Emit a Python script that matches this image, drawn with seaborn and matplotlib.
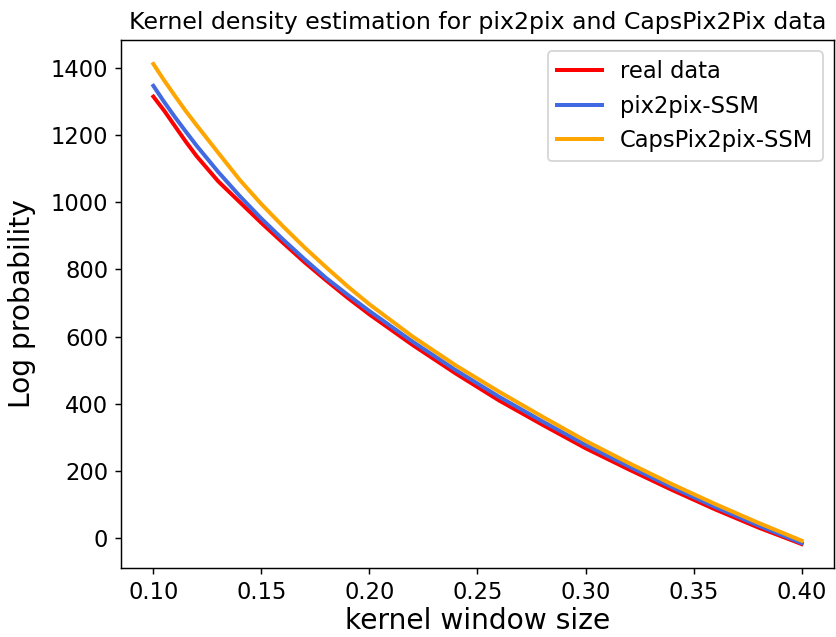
import numpy as np
import pandas as pd
import matplotlib
matplotlib.use("Agg")
import matplotlib.pyplot as plt
import seaborn as sns

# kernel window sizes (x) and log probabilities
window = [0.100, 0.105, 0.110, 0.115, 0.120, 0.130, 0.140, 0.150, 0.160, 0.170,
          0.180, 0.190, 0.200, 0.220, 0.240, 0.260, 0.280, 0.300, 0.320, 0.340,
          0.360, 0.380, 0.400]

real_data = [1314, 1272, 1226, 1180, 1137, 1062, 1000, 938, 879, 821,
             767, 715, 666, 575, 490, 410, 338, 268, 205, 144,
             86, 32, -17]
pix2pix_ssm = [1346, 1298, 1253, 1210, 1168, 1090, 1018, 951, 889, 830,
               774, 724, 676, 585, 500, 421, 348, 278, 214, 152,
               93, 38, -14]
capspix2pix_ssm = [1411, 1362, 1316, 1271, 1229, 1147, 1066, 994, 928, 865,
                   806, 749, 696, 600, 514, 436, 362, 290, 224, 161,
                   102, 46, -7]

series = ["real data", "pix2pix-SSM", "CapsPix2pix-SSM"]
colors = ["red", "royalblue", "orange"]

df = pd.DataFrame({"window": window,
                   "real data": real_data,
                   "pix2pix-SSM": pix2pix_ssm,
                   "CapsPix2pix-SSM": capspix2pix_ssm})

fig, ax = plt.subplots(figsize=(6.4, 4.8766), dpi=130.625)
fig.subplots_adjust(left=0.1447, right=0.9976, top=0.9372, bottom=0.1083)

# draw order: red under blue under orange
for name, col in zip(series, colors):
    sns.lineplot(data=df, x="window", y=name, ax=ax, color=col, linewidth=2.2, label=name)

ax.set_title("Kernel density estimation for pix2pix and CapsPix2Pix data", fontsize=13)
ax.set_xlabel("kernel window size", fontsize=15.5, labelpad=2)
ax.set_ylabel("Log probability", fontsize=15.5, labelpad=8)
ax.set_xticks([0.10, 0.15, 0.20, 0.25, 0.30, 0.35, 0.40])
ax.set_yticks([0, 200, 400, 600, 800, 1000, 1200, 1400])
ax.tick_params(labelsize=12.5)
ax.legend(fontsize=12.5, loc="upper right")

fig.savefig("out.png", dpi=130.625)
